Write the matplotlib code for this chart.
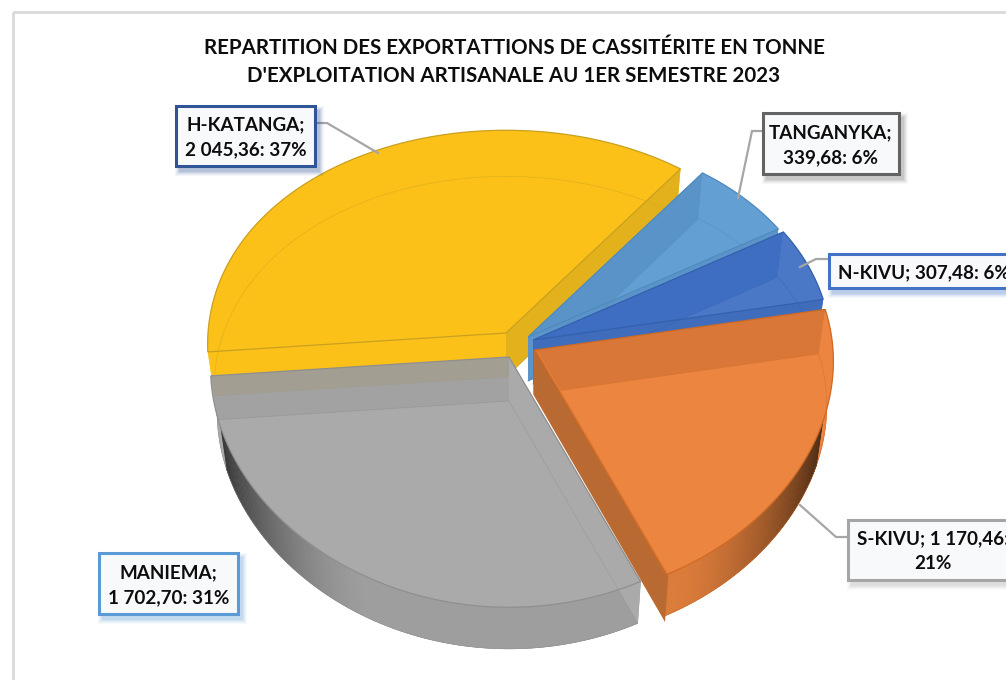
import numpy as np
import matplotlib
matplotlib.use("Agg")
import matplotlib.pyplot as plt
from matplotlib.colors import to_rgb
from matplotlib.patches import Rectangle

regions = ["TANGANYKA", "N-KIVU", "S-KIVU", "MANIEMA", "H-KATANGA"]
tonnes = [339.68, 307.48, 1170.46, 1702.70, 2045.36]
labels = ["TANGANYKA;\n339,68: 6%", "N-KIVU; 307,48: 6%", "S-KIVU; 1 170,46:\n21%",
          "MANIEMA;\n1 702,70: 31%", "H-KATANGA;\n2 045,36: 37%"]
title = ("REPARTITION DES EXPORTATTIONS DE CASSITÉRITE EN TONNE\n"
         "D'EXPLOITATION ARTISANALE AU 1ER SEMESTRE 2023")

# look of the slices, same order as regions
face_colors = ["#639FD3", "#4A78C6", "#EC853F", "#AAAAAA", "#FBC118"]
# cut walls: the one under the top face, as seen through it, and the one left outside of it
under_wall_colors = ["#5A94C8", "#3F6FC2", "#D97838", "#A3A3A3", "#FBC118"]
outer_wall_colors = ["#5A94C8", "#3F6DBB", "#B96A32", "#AAAAAA", "#E3B11C"]
edge_colors = ["#4F8AC0", "#3560AE", "#CF6A25", "#8F8F8F", "#C9A020"]
apex_x = [528, 533, 535, 509, 506]
apex_y = [337, 340, 350, 357, 333]
box_x = [763, 829, 848, 99, 176]
box_y = [113, 254, 520, 553, 106]
box_w = [136, 190, 170, 139, 139]
box_h = [61, 34, 60, 61, 60]
box_colors = ["#636363", "#4472C4", "#A5A5A5", "#5B9BD5", "#2F5597"]
leader_x = [[763, 752, 738], [829, 816, 800], [848, 836, 800], None, [315, 327, 378]]
leader_y = [[131, 131, 198], [259, 259, 267], [537, 537, 505], None, [123, 123, 153]]

START_ANGLE = 52.5  # clockwise from here
A, B = 298.0, 224.0  # half axes of the tilted disc
PX, PY = 0.05, 0.105  # perspective
DEPTH = 44.0
FACE_ALPHA = 0.82
RIM_LIMIT = -0.3  # sin(angle) where the outer side starts to show

plt.rcParams["font.family"] = ["Lato", "DejaVu Sans"]


def project(theta, apex, r=1.0, z=0.0):
    u = r * np.sin(theta)
    x = A * r * np.cos(theta) / (1 + PX * u)
    y = -B * u / (1 + PY * u)
    return apex[0] + x * (1 - 0.022 * z), apex[1] + y * (1 - 0.01 * z) + DEPTH * z


def through_face(seen, face):
    # wall colour that shows as "seen" once the top face lies over it
    rgb = (np.array(to_rgb(seen)) - FACE_ALPHA * np.array(to_rgb(face))) / (1 - FACE_ALPHA)
    return tuple(np.clip(rgb, 0, 1))


def rim_shade(theta, rgb):
    # side of the disc gets dark where it turns away from the viewer
    turn = abs(np.cos(theta))
    k = 0.93 - 0.68 * max(0.0, (turn - 0.45) / 0.55) ** 1.6
    return tuple(c * k for c in rgb)


fig = plt.figure(figsize=(10.06, 6.8), dpi=100, facecolor="white")
ax = fig.add_axes([0, 0, 1, 1])
ax.set_xlim(0, 1006)
ax.set_ylim(680, 0)
ax.axis("off")

# chart frame, runs off the picture to the right and the bottom
ax.add_patch(Rectangle((13, 12), 1100, 800, facecolor="none", edgecolor="#D9D9D9", linewidth=2, zorder=0))

total = sum(tonnes)
sweeps = [v / total * 2 * np.pi for v in tonnes]
ends = np.radians(START_ANGLE) - np.cumsum(sweeps)
starts = ends + np.array(sweeps)

# back to front
draw_order = [4, 0, 1, 3, 2]
z = 1
for i in draw_order:
    apex = (apex_x[i], apex_y[i])
    th = np.linspace(starts[i], ends[i], 160)
    tx, ty = project(th, apex)
    bx, by = project(th, apex, z=1.0)
    ax0, ay0 = project(0.0, apex, r=0.0)
    ax1, ay1 = project(0.0, apex, r=0.0, z=1.0)
    rgb = np.array(to_rgb(face_colors[i]))
    back = np.sin(th) > RIM_LIMIT
    front = ~back

    # floor of the slice, seen through the top
    ax.fill(np.r_[ax1, bx], np.r_[ay1, by], facecolor=face_colors[i], edgecolor=edge_colors[i],
            linewidth=0.5, zorder=z)
    z += 1

    # outer side, cut in small strips for the shading
    for j in range(len(th) - 1):
        if back[j]:
            continue
        col = rim_shade(0.5 * (th[j] + th[j + 1]), rgb)
        ax.fill([tx[j], tx[j + 1], bx[j + 1], bx[j]], [ty[j], ty[j + 1], by[j + 1], by[j]],
                facecolor=col, edgecolor=col, linewidth=0.4, zorder=z)
    z += 1

    # band of the top face that has no floor under it, so it does not come out paler
    if back.sum() > 1:
        ax.fill(np.r_[tx[back], bx[back][::-1]], np.r_[ty[back], by[back][::-1]], facecolor=face_colors[i],
                edgecolor="none", zorder=z)
    # front part is solid, keeps the dark side from showing through the top
    if front.sum() > 1:
        ax.fill(tx[front], ty[front], facecolor=face_colors[i], edgecolor="none", zorder=z)
    z += 1

    # the two cut walls
    if i == 3:
        # grey one: the back wall is see-through, the yellow floor has to show under it
        ax.fill([ax0, tx[-1], bx[-1], ax1], [ay0, ty[-1], by[-1], ay1], facecolor="#303030", alpha=0.6,
                edgecolor="none", zorder=z)
        ax.fill([ax0, tx[0], bx[0], ax1], [ay0, ty[0], by[0], ay1], facecolor=outer_wall_colors[i],
                edgecolor="none", zorder=z)
    else:
        ax.fill([ax0, tx[0], bx[0], ax1], [ay0, ty[0], by[0], ay1],
                facecolor=through_face(under_wall_colors[i], face_colors[i]), edgecolor="none", zorder=z)
        # orange wall a bit fatter, it has to touch the grey slice
        wall_lw = 2.5 if i == 2 else 0
        ax.fill([ax0, tx[-1], bx[-1], ax1], [ay0, ty[-1], by[-1], ay1], facecolor=outer_wall_colors[i],
                edgecolor=outer_wall_colors[i], linewidth=wall_lw, zorder=z)
    z += 1

    # top of the slice
    ax.fill(np.r_[ax0, tx], np.r_[ay0, ty], facecolor=tuple(rgb) + (FACE_ALPHA,),
            edgecolor=edge_colors[i], linewidth=0.9, zorder=z)
    z += 1

    # faint floor outline on top
    ax.plot(np.r_[ax1, bx, ax1], np.r_[ay1, by, ay1], color=edge_colors[i], linewidth=0.5, alpha=0.45, zorder=z)
    z += 1

# leader lines
for lx, ly in zip(leader_x, leader_y):
    if lx is not None:
        ax.plot(lx, ly, color="#A6A6A6", linewidth=1.6, zorder=z, solid_joinstyle="miter")
z += 1

# data labels with a soft shadow
for i, text in enumerate(labels):
    for grow, a in ((5, 0.05), (4, 0.06), (3, 0.08), (2, 0.10), (1, 0.12)):
        ax.add_patch(Rectangle((box_x[i] + 4 - grow, box_y[i] + 5 - grow), box_w[i] + 2 * grow, box_h[i] + 2 * grow,
                               facecolor=box_colors[i], edgecolor="none", alpha=a, zorder=z))
    ax.add_patch(Rectangle((box_x[i], box_y[i]), box_w[i], box_h[i], facecolor="#F8F9FB",
                           edgecolor=box_colors[i], linewidth=2.2, zorder=z + 1))
    ax.text(box_x[i] + box_w[i] / 2, box_y[i] + box_h[i] / 2 + 1.5, text, ha="center", va="center", fontsize=13.6,
            fontweight="bold", color="#0D0D0D", linespacing=1.55, zorder=z + 2)

ax.text(514, 62, title, ha="center", va="center", fontsize=14.8, fontweight="bold", color="#0D0D0D", linespacing=1.55,
        zorder=z + 2)

fig.savefig("out.png", dpi=100)
